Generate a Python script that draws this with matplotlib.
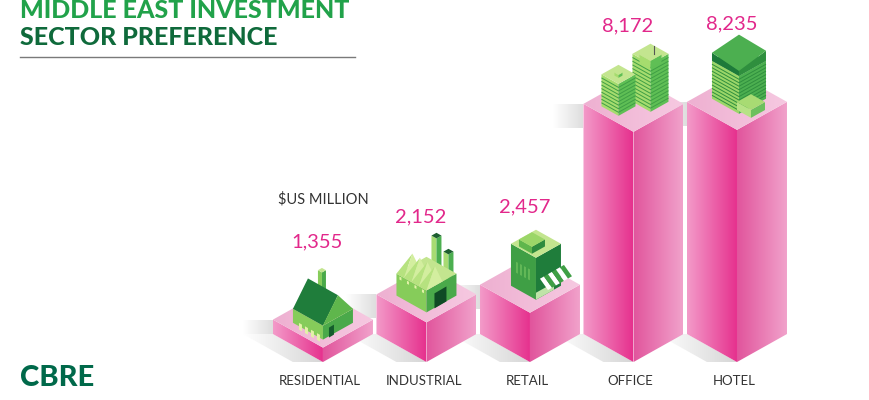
import numpy as np
import matplotlib
matplotlib.use("Agg")
import matplotlib.pyplot as plt
from matplotlib.patches import Polygon
from matplotlib.colors import LinearSegmentedColormap

# data
categories = ["RESIDENTIAL", "INDUSTRIAL", "RETAIL", "OFFICE", "HOTEL"]
values = [1355, 2152, 2457, 8172, 8235]
value_labels = ["1,355", "2,152", "2,457", "8,172", "8,235"]
unit_label = "$US MILLION"
title_1 = "MIDDLE EAST INVESTMENT"
title_2 = "SECTOR PREFERENCE"

W, H = 870, 400
fig = plt.figure(figsize=(W / 100, H / 100), dpi=100)
ax = fig.add_axes([0, 0, 1, 1])
XLIM = (-3.12, 5.285)
YLIM = (-300, 12338)
UX = W / (XLIM[1] - XLIM[0])      # px per x unit
UY = H / (YLIM[1] - YLIM[0])      # px per value unit
base = 900


def px_x(p):
    return p / UX


def px_y(p):
    return p / UY


def grad_face(poly, c0, c1, z, vertical=False):
    patch = Polygon(poly, closed=True, fc="none", ec="none", zorder=z)
    ax.add_patch(patch)
    xs = [p[0] for p in poly]
    ys = [p[1] for p in poly]
    cmap = LinearSegmentedColormap.from_list("", [c0, c1])
    g = np.linspace(0, 1, 256)
    g = g.reshape(-1, 1) if vertical else g.reshape(1, -1)
    im = ax.imshow(g, cmap=cmap, extent=[min(xs), max(xs), min(ys), max(ys)],
                   origin="lower", aspect="auto", zorder=z, interpolation="bilinear")
    im.set_clip_path(patch)


def flat(poly, color, z):
    ax.add_patch(Polygon(poly, closed=True, fc=color, ec="none", zorder=z))


def prism(cx, cy, hw, h, cols, z, stripes=0, stripe_col=None):
    # cx, cy = front bottom vertex (data), hw and h in px
    w = px_x(hw)
    d = px_y(hw * 0.56)
    hh = px_y(h)
    F = (cx, cy)
    L = (cx - w, cy + d)
    R = (cx + w, cy + d)
    B = (cx, cy + 2 * d)
    up = lambda p: (p[0], p[1] + hh)
    flat([L, F, up(F), up(L)], cols[0], z)
    flat([F, R, up(R), up(F)], cols[1], z)
    flat([up(L), up(F), up(R), up(B)], cols[2], z)
    if stripes:
        for k in range(1, stripes):
            t = hh * k / stripes
            ax.plot([L[0], F[0], R[0]], [L[1] + t, F[1] + t, R[1] + t],
                    color=stripe_col, lw=0.7, zorder=z, solid_capstyle="butt")
    return up(L), up(F), up(R), up(B)


def mid(a, b):
    return ((a[0] + b[0]) / 2, (a[1] + b[1]) / 2)


def lift(p, px):
    return (p[0], p[1] + px_y(px))


g_wall = "#86cc5a"
g_side = "#4aa94a"
g_top = "#c3e58f"
g_dark = "#1d7a3a"

half = px_x(50)
dy = px_y(28)

for i, (cat, v) in enumerate(zip(categories, values)):
    F = (i, v)
    L = (i - half, v + dy)
    R = (i + half, v + dy)
    K = (i, v + 2 * dy)
    Fb = (i, base)
    Lb = (i - half, base + dy)
    Rb = (i + half, base + dy)

    # soft shadows: on the floor and at the top, to the left
    sh = px_x(30)
    grad_face([(Lb[0] - sh, Lb[1]), Lb, Fb, (Fb[0] - sh, Fb[1])],
              "#ffffff", "#d6d6d6", 1)
    band = min(v - base, px_y(24))
    grad_face([(L[0] - sh, L[1]), L, (L[0], L[1] - band), (L[0] - sh, L[1] - band)],
              "#ffffff", "#dedede", 1)

    grad_face([L, F, Fb, Lb], "#f39bc9", "#e6318e", 3)
    grad_face([F, R, Rb, Fb], "#e1549c", "#f1a2cb", 3)
    grad_face([L, F, R, K], "#eeb0d1", "#f6c9e1", 3)

# buildings on top of each bar
tops = [(i, v) for i, v in enumerate(values)]

# residential: house with gable roof and chimney
cx, cy = tops[0]
Lt, Ft, Rt, Bt = prism(cx, cy + px_y(8), 30, 14, (g_wall, g_side, g_top), 5)
ridge_a = lift(mid(Lt, Bt), 22)
ridge_b = lift(mid(Ft, Rt), 22)
prism(ridge_a[0] + px_x(14), ridge_a[1] - px_y(16), 4, 22, (g_wall, g_side, g_top), 5.1)
flat([Lt, Ft, ridge_b, ridge_a], "#1f7d3b", 6)
flat([Ft, Rt, ridge_b], "#5fb64c", 6)
for k in range(4):
    x0 = cx - px_x(24) + px_x(6) * k
    y0 = cy + px_y(18) - px_y(3.4) * k
    flat([(x0, y0), (x0 + px_x(3), y0 - px_y(1.7)), (x0 + px_x(3), y0 + px_y(5)),
          (x0, y0 + px_y(6.7))], "#e3f2a8", 7)
flat([(cx + px_x(6), cy + px_y(10)), (cx + px_x(11), cy + px_y(13)),
      (cx + px_x(11), cy + px_y(23)), (cx + px_x(6), cy + px_y(20))], "#145c2c", 7)

# industrial: factory with sawtooth roof and chimneys
cx, cy = tops[1]
prism(cx + px_x(10), cy + px_y(44), 5, 40, ("#a8db73", "#4caf50", "#1d5e30"), 4.5)
prism(cx + px_x(22), cy + px_y(38), 5, 30, ("#a8db73", "#4caf50", "#1d5e30"), 4.6)
Lt, Ft, Rt, Bt = prism(cx, cy + px_y(10), 30, 22, (g_wall, g_side, g_top), 5)
for k in range(4):
    t = k / 4.0
    x0 = Lt[0] + (Ft[0] - Lt[0]) * t
    y0 = Lt[1] + (Ft[1] - Lt[1]) * t
    x1 = Lt[0] + (Ft[0] - Lt[0]) * (t + 0.25)
    y1 = Lt[1] + (Ft[1] - Lt[1]) * (t + 0.25)
    flat([(x0, y0), (x1, y1), (x0 + px_x(16), y0 + px_y(20))], "#b6e27f", 6)
    flat([(x1, y1), (x1 + px_x(16), y1 + px_y(9)), (x0 + px_x(16), y0 + px_y(20))], "#d3ee9f", 6)
    flat([(x0 + px_x(3), y0 - px_y(6)), (x0 + px_x(5), y0 - px_y(7)),
          (x0 + px_x(5), y0 - px_y(4)), (x0 + px_x(3), y0 - px_y(3))], "#e3f2a8", 7)
flat([(cx + px_x(8), cy + px_y(14)), (cx + px_x(20), cy + px_y(21)),
      (cx + px_x(20), cy + px_y(36)), (cx + px_x(8), cy + px_y(29))], "#0f4a25", 7)

# retail: shop with striped awning
cx, cy = tops[2]
Lt, Ft, Rt, Bt = prism(cx + px_x(6), cy + px_y(13), 25, 42, ("#3f9f45", "#1f7d3b", g_top), 5)
prism(cx + px_x(2), Ft[1] + px_y(4), 13, 7, ("#5fb64c", "#2e8b3e", "#9bd668"), 5.5)
for k in range(4):
    x0 = cx - px_x(14) + px_x(4) * k
    flat([(x0, cy + px_y(40) - px_y(2.2) * k), (x0 + px_x(2), cy + px_y(39) - px_y(2.2) * k),
          (x0 + px_x(2), cy + px_y(50) - px_y(2.2) * k), (x0, cy + px_y(51) - px_y(2.2) * k)],
         "#62b857", 6)
for k in range(6):
    x0 = cx + px_x(10) + px_x(4) * k
    y0 = cy + px_y(34) + px_y(2.3) * k
    col = "#ffffff" if k % 2 == 0 else "#3f9f45"
    flat([(x0, y0), (x0 + px_x(4), y0 + px_y(2.3)), (x0 + px_x(12), y0 - px_y(9)),
          (x0 + px_x(8), y0 - px_y(11.3))], col, 7)
flat([(cx + px_x(6), cy + px_y(13)), (cx + px_x(24), cy + px_y(23)),
      (cx + px_x(24), cy + px_y(30)), (cx + px_x(6), cy + px_y(20))], "#bfe3a8", 6)

# office: two towers
cx, cy = tops[3]
Lt, Ft, Rt, Bt = prism(cx + px_x(17), cy + px_y(20), 18, 48, ("#a6dc6e", "#5fbf55", g_top), 5,
                       stripes=13, stripe_col="#3f9f45")
prism(cx + px_x(17), Ft[1] - px_y(5), 11, 8, ("#a6dc6e", "#5fbf55", g_top), 5.2)
ax.plot([cx + px_x(21), cx + px_x(21)], [Ft[1] + px_y(10), Ft[1] + px_y(18)],
        color="#555555", lw=0.8, zorder=5.3)
Lt, Ft, Rt, Bt = prism(cx - px_x(15), cy + px_y(16), 17, 32, ("#a6dc6e", "#5fbf55", g_top), 5.5,
                       stripes=9, stripe_col="#3f9f45")
prism(cx - px_x(15), Ft[1] + px_y(6), 4, 3, ("#a6dc6e", "#5fbf55", g_top), 5.6)

# hotel: curved tower
cx, cy = tops[4]
Lt, Ft, Rt, Bt = prism(cx + px_x(2), cy + px_y(16), 27, 38, ("#9bd668", "#4caf50", "#2f8f3e"), 5,
                       stripes=11, stripe_col="#2f8f3e")
flat([Lt, Ft, lift(Ft, 5), lift(Lt, 8)], g_dark, 5.2)
flat([Ft, Rt, lift(Rt, 10), lift(Ft, 5)], "#2f8f3e", 5.2)
flat([lift(Lt, 8), lift(Ft, 5), lift(Rt, 10), lift(Bt, 11)], "#4caf50", 5.2)
prism(cx + px_x(14), cy + px_y(12), 14, 8, ("#b7e286", "#6cc05e", "#a8db73"), 5.5)

# value labels and category labels
for i, (v, lab, cat) in enumerate(zip(values, value_labels, categories)):
    ax.annotate(lab, (i, v), xytext=(-4, 76), textcoords="offset points",
                ha="center", va="center", fontsize=14.5, color="#e2288b", family="Lato")
    ax.annotate(cat, (i, base), xytext=(-2, -14), textcoords="offset points",
                ha="center", va="center", fontsize=9.5, color="#333333", family="Lato")

ax.set_xlim(*XLIM)
ax.set_ylim(*YLIM)
ax.axis("off")

# title, rule, unit and logo
fig.text(20 / W, 1 - 18 / H, title_1, fontsize=18, color="#21a24a", family="Lato",
         fontweight="black", va="baseline", ha="left")
fig.text(20 / W, 1 - 45 / H, title_2, fontsize=18, color="#0f6a3b", family="Lato",
         fontweight="black", va="baseline", ha="left")
fig.add_artist(plt.Line2D([20 / W, 355 / W], [1 - 57 / H, 1 - 57 / H], color="#7a7a7a", lw=1))
fig.text(278 / W, 1 - 199 / H, unit_label, fontsize=10.5, color="#333333", family="Lato",
         va="center", ha="left")
fig.text(20 / W, 1 - 378 / H, "CBRE", fontsize=21, color="#00694a", family="Lato",
         fontweight="black", va="center", ha="left")

fig.savefig("out.png", dpi=100)
